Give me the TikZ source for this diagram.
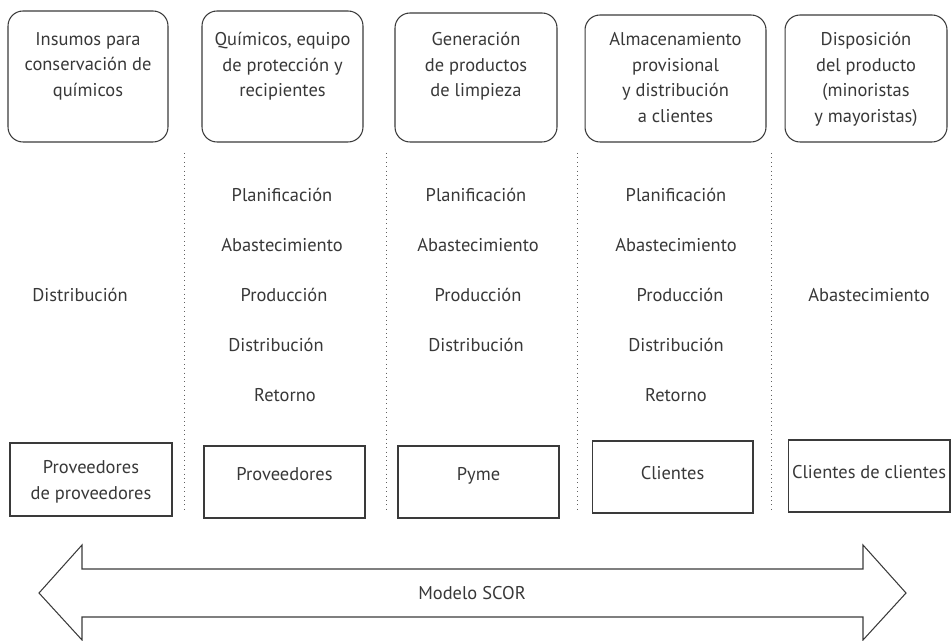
\documentclass[tikz,border=0pt]{standalone}
\usepackage{fontspec}
\setmainfont{PT Sans}
\usepackage{tikz}
\usetikzlibrary{positioning}
\definecolor{lineColor}{HTML}{3A3A3A}
\definecolor{textColor}{HTML}{383838}

\begin{document}
\fontsize{10.5}{14.6}\selectfont
\begin{tikzpicture}[
  x=0.02cm, y=-0.02cm,
  every node/.style={
    text=textColor,
    font=\fontsize{10.5}{14.6}\selectfont
  },
  stagebox/.style={
    draw=lineColor,
    line width=0.6pt,
    rounded corners=8.5pt,
    minimum height=2.6cm
  },
  actorbox/.style={
    draw=lineColor,
    line width=0.6pt,
    minimum height=1.45cm
  },
  boxtext/.style={
    anchor=north,
    align=center,
    inner sep=0pt,
    execute at begin node=\strut
  },
  process/.style={
    anchor=base,
    inner sep=0pt
  },
  divider/.style={
    draw=lineColor!80,
    line width=0.5pt,
    dotted
  }
]
  \useasboundingbox (0,0) rectangle (952,641);

  % Stages of the chain
  \node (s1) [stagebox, minimum width=3.2cm, minimum height=2.62cm] at (88,76.5) {};
  \node (s2) [stagebox, minimum width=3.22cm, minimum height=2.62cm] at (282.5,76.5) {};
  \node (s3) [stagebox, minimum width=3.24cm, minimum height=2.58cm] at (476,77.5) {};
  \node (s4) [stagebox, minimum width=3.62cm, minimum height=2.54cm] at (675.5,78.5) {};
  \node (s5) [stagebox, minimum width=3.24cm, minimum height=2.54cm] at (866,78.5) {};

  \node (s1t) [boxtext] at (88,32) {Insumos para\\conservación de\\químicos};
  \node (s2t) [boxtext] at (282.5,32) {Químicos, equipo\\de protección y\\recipientes};
  \node (s3t) [boxtext] at (476,32) {Generación\\de productos\\de limpieza};
  \node (s4t) [boxtext] at (675.5,32) {Almacenamiento\\provisional\\y distribución\\a clientes};
  \node (s5t) [boxtext] at (866,32) {Disposición\\del producto\\(minoristas\\y mayoristas)};

  % Column separators
  \draw[divider] (184,153) -- (184,512);
  \draw[divider] (386,153) -- (386,512);
  \draw[divider] (577,153) -- (577,512);
  \draw[divider] (771,153) -- (771,512);

  % SCOR processes
  \node (p1d) [process] at (80,301.5) {Distribución};

  \node (p2p) [process] at (282,201.5) {Planificación};
  \node (p2a) [process] at (282,251.5) {Abastecimiento};
  \node (p2r) [process] at (284,301.5) {Producción};
  \node (p2d) [process] at (276,351.5) {Distribución};
  \node (p2e) [process] at (285,401.5) {Retorno};

  \node (p3p) [process] at (476,201.5) {Planificación};
  \node (p3a) [process] at (478,251.5) {Abastecimiento};
  \node (p3r) [process] at (478,301.5) {Producción};
  \node (p3d) [process] at (476,351.5) {Distribución};

  \node (p4p) [process] at (676,201.5) {Planificación};
  \node (p4a) [process] at (676,251.5) {Abastecimiento};
  \node (p4r) [process] at (680,301.5) {Producción};
  \node (p4d) [process] at (676,351.5) {Distribución};
  \node (p4e) [process] at (676,401.5) {Retorno};

  \node (p5a) [process] at (869,301.5) {Abastecimiento};

  % Actors
  \node (a1) [actorbox, minimum width=3.24cm, minimum height=1.46cm] at (91,479.5) {};
  \node (a2) [actorbox, minimum width=3.22cm, minimum height=1.44cm] at (284.5,482) {};
  \node (a3) [actorbox, minimum width=3.22cm, minimum height=1.44cm] at (478.5,482) {};
  \node (a4) [actorbox, minimum width=3.22cm, minimum height=1.44cm] at (672.5,477) {};
  \node (a5) [actorbox, minimum width=3.24cm, minimum height=1.44cm] at (869,476) {};

  \node (a1t) [boxtext] at (91,460) {Proveedores\\de proveedores};
  \node (a2t) [boxtext] at (284.5,462) {Proveedores};
  \node (a3t) [boxtext] at (478.5,462) {Pyme};
  \node (a4t) [boxtext] at (672.5,461) {Clientes};
  \node (a5t) [boxtext] at (869,460) {Clientes de clientes};

  % Double arrow
  \node (scor) at (472,593) {Modelo SCOR};
  \draw[lineColor, line width=0.6pt] (39,593) -- (82,545) -- (82,569) -- (863,569)
    -- (863,545) -- (906,593) -- (863,640) -- (863,617) -- (82,617) -- (82,640) -- cycle;
\end{tikzpicture}
\end{document}
